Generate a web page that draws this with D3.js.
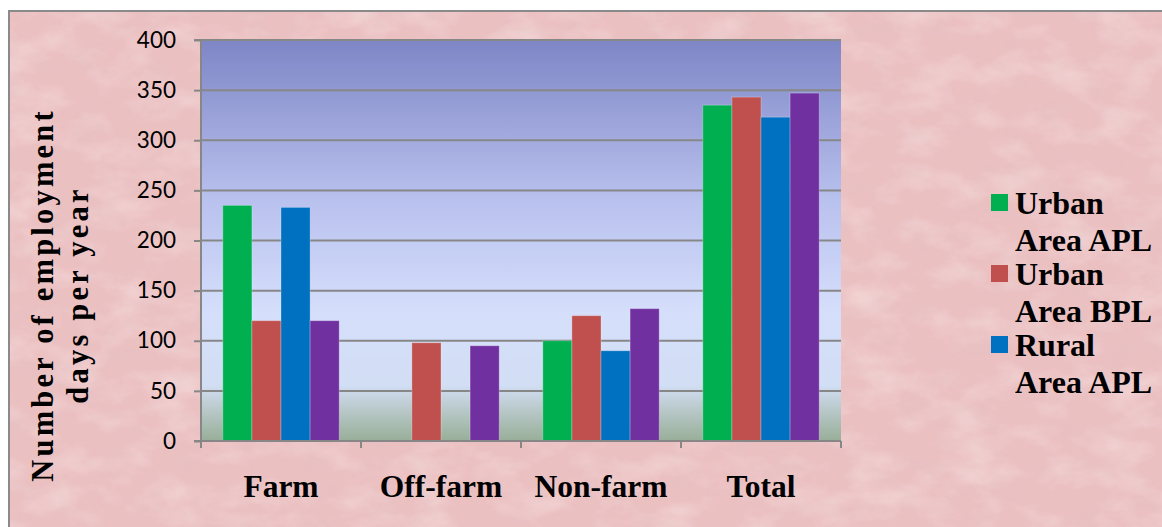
<!DOCTYPE html>
<html>
<head>
<meta charset="utf-8">
<script src="https://cdn.jsdelivr.net/npm/d3@7"></script>
<style>
  html, body { margin: 0; padding: 0; background: #ffffff; overflow: hidden; }
  svg { display: block; }
</style>
</head>
<body>
<script>
// Employment days per year by activity and area group
const categories = ["Farm", "Off-farm", "Non-farm", "Total"];
const seriesNames = ["Urban Area APL", "Urban Area BPL", "Rural Area APL", "Rural Area BPL"];
const urbanAPL = [235, 0, 100, 335];
const urbanBPL = [120, 98, 125, 343];
const ruralAPL = [233, 0, 90, 323];
const ruralBPL = [120, 95, 132, 347];
const yTicks = [0, 50, 100, 150, 200, 250, 300, 350, 400];
const legendLines = [["Urban", "Area APL"], ["Urban", "Area BPL"], ["Rural", "Area APL"]];

const seriesValues = [urbanAPL, urbanBPL, ruralAPL, ruralBPL];
const colors = ["#00b050", "#c0504d", "#0070c0", "#7030a0"];

const W = 1162, H = 527;
const plot = { left: 201, right: 841, top: 40, bottom: 441 };
const serif = "Liberation Serif, Times New Roman, DejaVu Serif, serif";

const svg = d3.select("body").append("svg").attr("width", W).attr("height", H);
const defs = svg.append("defs");

// mottled paper texture for the chart area
const tex = defs.append("filter").attr("id", "paper")
  .attr("x", 0).attr("y", 0).attr("width", "100%").attr("height", "100%");
tex.append("feTurbulence").attr("type", "fractalNoise")
  .attr("baseFrequency", "0.02 0.035").attr("numOctaves", 4).attr("seed", 7).attr("result", "n");
tex.append("feColorMatrix").attr("in", "n").attr("type", "matrix")
  .attr("values", "0 0 0 0 1  0 0 0 0 0.9  0 0 0 0 0.9  0.7 0 0 0 -0.3").attr("result", "w");
tex.append("feComposite").attr("in", "w").attr("in2", "SourceGraphic").attr("operator", "in").attr("result", "wl");
tex.append("feMerge").selectAll("feMergeNode").data(["SourceGraphic", "wl"]).join("feMergeNode").attr("in", d => d);

const tex2 = defs.append("filter").attr("id", "paperDark")
  .attr("x", 0).attr("y", 0).attr("width", "100%").attr("height", "100%");
tex2.append("feTurbulence").attr("type", "fractalNoise")
  .attr("baseFrequency", "0.03 0.05").attr("numOctaves", 3).attr("seed", 21).attr("result", "n");
tex2.append("feColorMatrix").attr("in", "n").attr("type", "matrix")
  .attr("values", "0 0 0 0 0.75  0 0 0 0 0.55  0 0 0 0 0.57  0.9 0 0 0 -0.38");

// plot-area gradient
const grad = defs.append("linearGradient").attr("id", "plotGrad")
  .attr("x1", 0).attr("y1", 0).attr("x2", 0).attr("y2", 1);
[[0, "#7e86c6"], [0.4, "#b9c1ee"], [0.68, "#d5dffb"], [0.86, "#d2def4"], [0.93, "#b5c6c4"], [1, "#98ae98"]]
  .forEach(([o, c]) => grad.append("stop").attr("offset", o).attr("stop-color", c));

// chart area background
svg.append("rect").attr("x", 9).attr("y", 11).attr("width", W).attr("height", H)
  .attr("fill", "#ebc0c1").attr("filter", "url(#paper)");
svg.append("rect").attr("x", 9).attr("y", 11).attr("width", W).attr("height", H)
  .attr("fill", "#ebc0c1").attr("filter", "url(#paperDark)").attr("opacity", 0.6);
svg.append("path").attr("d", `M9,${H} V11 H${W}`)
  .attr("fill", "none").attr("stroke", "#8a8a8a").attr("stroke-width", 2);

const x0 = d3.scaleBand().domain(categories).range([plot.left, plot.right]).paddingInner(0).paddingOuter(0);
const barW = x0.bandwidth() / 5.5;
const x1 = d3.scaleBand().domain(d3.range(4)).range([barW * 0.75, barW * 4.75]);
const y = d3.scaleLinear().domain([0, 400]).range([plot.bottom, plot.top]);

svg.append("rect").attr("x", plot.left).attr("y", plot.top)
  .attr("width", plot.right - plot.left).attr("height", plot.bottom - plot.top)
  .attr("fill", "url(#plotGrad)");

// gridlines
svg.append("g").selectAll("line").data(yTicks.filter(d => d > 0)).join("line")
  .attr("x1", plot.left).attr("x2", plot.right)
  .attr("y1", d => y(d)).attr("y2", d => y(d))
  .attr("stroke", "#878787").attr("stroke-width", 2);

// bars
const groups = svg.append("g").selectAll("g").data(categories).join("g")
  .attr("transform", d => `translate(${x0(d)},0)`);
groups.selectAll("rect")
  .data((c, ci) => seriesValues.map((vals, si) => ({ si, v: vals[ci] })).filter(d => d.v > 0))
  .join("rect")
  .attr("x", d => x1(d.si))
  .attr("width", x1.bandwidth())
  .attr("y", d => y(d.v))
  .attr("height", d => y(0) - y(d.v))
  .attr("fill", d => colors[d.si])
  .attr("stroke", "rgba(255,255,255,0.25)").attr("stroke-width", 1);

// y axis
const yAxis = svg.append("g").attr("transform", `translate(${plot.left},0)`)
  .call(d3.axisLeft(y).tickValues(yTicks).tickSize(7).tickPadding(18));
yAxis.select(".domain").attr("stroke", "#878787").attr("stroke-width", 2).attr("d", `M-7,${plot.top}H0V${plot.bottom}`);
yAxis.selectAll(".tick line").attr("stroke", "#878787").attr("stroke-width", 2);
yAxis.selectAll(".tick text").attr("fill", "#000").attr("font-family", "Lato, Open Sans, sans-serif")
  .attr("font-size", 22.5);

// x axis
const xAxis = svg.append("g").attr("transform", `translate(0,${plot.bottom})`)
  .call(d3.axisBottom(x0).tickSize(0).tickPadding(0));
xAxis.select(".domain").remove();
xAxis.selectAll(".tick text").remove();
svg.append("line").attr("x1", plot.left - 7).attr("x2", plot.right)
  .attr("y1", plot.bottom).attr("y2", plot.bottom).attr("stroke", "#878787").attr("stroke-width", 2);
svg.append("g").selectAll("line").data(d3.range(categories.length + 1)).join("line")
  .attr("x1", i => plot.left + i * x0.step()).attr("x2", i => plot.left + i * x0.step())
  .attr("y1", plot.bottom).attr("y2", plot.bottom + 7)
  .attr("stroke", "#878787").attr("stroke-width", 2);
svg.append("g").selectAll("text").data(categories).join("text")
  .attr("x", d => x0(d) + x0.bandwidth() / 2).attr("y", 497)
  .attr("text-anchor", "middle")
  .attr("font-family", serif)
  .attr("font-weight", "bold").attr("font-size", 31.5).attr("fill", "#000")
  .text(d => d);

// y axis title
const yt = svg.append("text")
  .attr("transform", "translate(0,295) rotate(-90)")
  .attr("text-anchor", "middle")
  .attr("font-family", serif)
  .attr("font-weight", "bold").attr("font-size", 30.5).attr("fill", "#000")
  .attr("letter-spacing", 3.2);
yt.append("tspan").attr("x", 0).attr("y", 53).text("Number of employment");
yt.append("tspan").attr("x", 0).attr("y", 88).text("days per year");

// legend
const leg = svg.append("g").selectAll("g").data(legendLines).join("g")
  .attr("transform", (d, i) => `translate(991,${194 + i * 71})`);
leg.append("rect").attr("width", 17).attr("height", 17).attr("fill", (d, i) => colors[i]);
leg.append("text")
  .attr("font-family", serif)
  .attr("font-weight", "bold").attr("font-size", 32).attr("fill", "#000")
  .selectAll("tspan").data(d => d).join("tspan")
  .attr("x", 24).attr("y", (d, j) => 20 + j * 37).text(d => d);
</script>
</body>
</html>
